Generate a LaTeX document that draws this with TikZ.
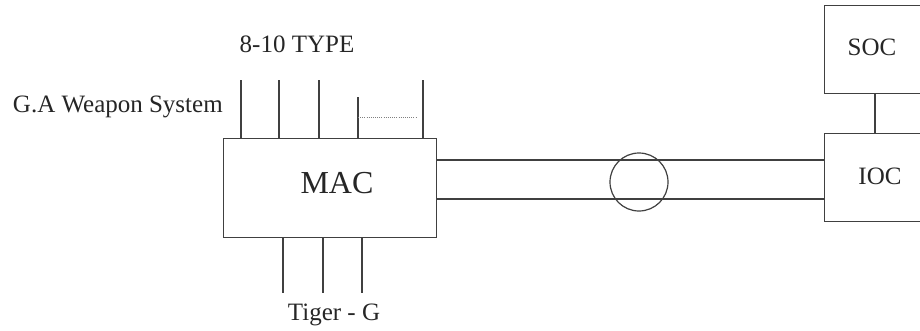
\documentclass[tikz,border=0pt]{standalone}
\usepackage{fontspec}
\setmainfont{Liberation Serif}
\begin{document}
\begin{tikzpicture}[x=0.75pt,y=-0.75pt,
  ln/.style={draw=black!75,line width=0.9pt},
  lbl/.style={text=black!85,inner sep=0pt,font=\fontsize{18.75}{22}\selectfont},
  big/.style={text=black!85,inner sep=0pt,font=\fontsize{24}{28}\selectfont},
  boxn/.style={ln,rectangle,inner sep=0pt,anchor=north west}]
\useasboundingbox (0,0) rectangle (920,330);
\clip (0,0) rectangle (920,330);
\fill[white] (0,0) rectangle (920,330);
% boxes
\node[boxn,minimum width=213*0.75pt,minimum height=99*0.75pt] (mac) at (223,138) {};
\node[boxn,minimum width=140*0.75pt,minimum height=88*0.75pt] (ioc) at (824,133) {};
\node[boxn,minimum width=140*0.75pt,minimum height=88*0.75pt] (soc) at (824,5) {};
% box texts
\node[big,anchor=base] (mact) at (337,193) {MAC};
\node[lbl,anchor=base] (ioct) at (880,184) {IOC};
\node[lbl,anchor=base] (soct) at (872,55) {SOC};
% labels
\node[lbl,anchor=base] (type) at (297,52) {8-10 TYPE};
\node[lbl,anchor=base east] (ga) at (223,112) {G.A Weapon System};
\node[lbl,anchor=base] (tiger) at (334,320) {Tiger - G};
% top lines
\coordinate (t1) at (241,80);
\coordinate (t2) at (279,80);
\coordinate (t3) at (319,80);
\coordinate (t4) at (358,97);
\coordinate (t5) at (423,80);
\foreach \c in {t1,t2,t3,t4,t5}{\draw[ln] (\c) -- (\c |- mac.north);}
\coordinate (d1) at (358,117);
\coordinate (d2) at (417,117);
\draw[draw=black!50,line width=0.6pt,densely dotted] (d1) -- (d2);
% bottom lines
\coordinate (b1) at (283,293);
\coordinate (b2) at (323,293);
\coordinate (b3) at (362,293);
\foreach \c in {b1,b2,b3}{\draw[ln] (\c |- mac.south) -- (\c);}
% double link
\coordinate (u) at (0,160);
\coordinate (l) at (0,199);
\draw[ln] (u -| mac.east) -- (u -| ioc.west);
\draw[ln] (l -| mac.east) -- (l -| ioc.west);
\node[ln,circle,minimum size=58*0.75pt,inner sep=0pt] (ring) at (639,182) {};
% SOC-IOC link
\coordinate (s) at (875,0);
\draw[ln] (s |- soc.south) -- (s |- ioc.north);
\end{tikzpicture}
\end{document}
